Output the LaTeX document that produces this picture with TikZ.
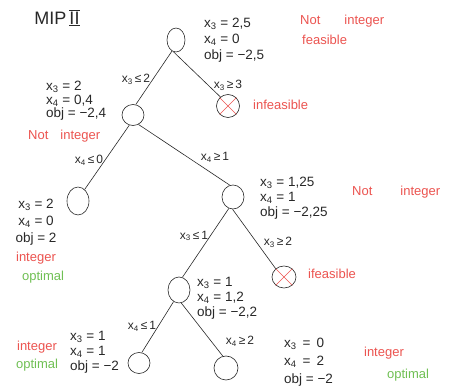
\documentclass[tikz,border=0pt]{standalone}
\usepackage{fontspec}
\setmainfont{Liberation Sans}
\usetikzlibrary{shapes.geometric}
\definecolor{redc}{RGB}{236,84,80}
\definecolor{greenc}{RGB}{112,192,84}
\definecolor{inkc}{RGB}{40,40,40}
\newcommand\xsub[1]{x\textsubscript{#1}}
\begin{document}
\begin{tikzpicture}[x=1pt,y=-1pt,
  nd/.style={ellipse, draw=inkc, line width=0.6pt, inner sep=0pt},
  conn/.style={draw=inkc, line width=0.6pt},
  cross/.style={draw=redc, line width=0.6pt},
  info/.style={font=\fontsize{13.5}{#1}\selectfont, align=left, inner sep=0pt, anchor=west, text=inkc},
  info/.default=15,
  lbl/.style={font=\fontsize{12}{13}\selectfont, inner sep=0pt, text=inkc},
  note/.style={font=\fontsize{13}{14}\selectfont, inner sep=0pt, text=redc},
  good/.style={font=\fontsize{13}{14}\selectfont, inner sep=0pt, text=greenc}]
\useasboundingbox[fill=white] (0,0) rectangle (459,390);

% title
\node[font=\fontsize{18}{20}\selectfont, text=inkc, inner sep=0pt] (title) at (57,18)
  {MIP\,\ensuremath{\overline{\underline{\mathrm{II}}}}};

% tree nodes
\node[nd, minimum width=18pt, minimum height=24pt] (root) at (176,40) {};
\node[nd, minimum width=22pt, minimum height=21pt] (A) at (133,115) {};
\node[nd, minimum width=23pt, minimum height=23pt] (B) at (228,106) {};
\node[nd, minimum width=22pt, minimum height=28pt] (C) at (78,201) {};
\node[nd, minimum width=22pt, minimum height=24pt] (D) at (233,197) {};
\node[nd, minimum width=22pt, minimum height=26pt] (E) at (179,290) {};
\node[nd, minimum width=24pt, minimum height=22pt] (F) at (284,277) {};
\node[nd, minimum width=22pt, minimum height=21pt] (G) at (139,363) {};
\node[nd, minimum width=24pt, minimum height=24pt] (H) at (226,368) {};

% red crosses
\draw[cross] (B.45) -- (B.225) (B.135) -- (B.315);
\draw[cross] (F.45) -- (F.225) (F.135) -- (F.315);

% connectors
\draw[conn] (root.250) -- (A.75);
\draw[conn] (root.258) -- (B.130);
\draw[conn] (A.250) -- (C.60);
\draw[conn] (A.300) -- (D.105);
\draw[conn] (D.250) -- (E.75);
\draw[conn] (D.268) -- (F.135);
\draw[conn] (E.245) -- (G.75);
\draw[conn] (E.280) -- (H.105);

% branch labels
\node[lbl] (l1) at (136,79) {\xsub{3}\,≤\,2};
\node[lbl] (l2) at (228,85) {\xsub{3}\,≥\,3};
\node[lbl] (l3) at (89,160) {\xsub{4}\,≤\,0};
\node[lbl] (l4) at (215,157) {\xsub{4}\,≥\,1};
\node[lbl] (l5) at (194,236) {\xsub{3}\,≤\,1};
\node[lbl] (l6) at (278,242) {\xsub{3}\,≥\,2};
\node[lbl] (l7) at (142,326) {\xsub{4}\,≤\,1};
\node[lbl] (l8) at (240,341) {\xsub{4}\,≥\,2};

% node values
\node[info=16] (t0) at (204,40) {\xsub{3} = 2,5\\ \xsub{4} = 0\\ obj = −2,5};
\node[info=13.5] (tA) at (46,101) {\xsub{3} = 2\\ \xsub{4} = 0,4\\ obj = −2,4};
\node[info=17, align=center, anchor=center] (tC) at (36,222) {\xsub{3} = 2\\ \xsub{4} = 0\\ obj = 2};
\node[info=15] (tD) at (260,198) {\xsub{3} = 1,25\\ \xsub{4} = 1\\ obj = −2,25};
\node[info=15] (tE) at (197,298) {\xsub{3} = 1\\ \xsub{4} = 1,2\\ obj = −2,2};
\node[info=15] (tG) at (70,352) {\xsub{3} = 1\\ \xsub{4} = 1\\ obj = −2};
\node[info=18] (tH) at (284,362) {\xsub{3}\, = \,0\\ \xsub{4}\, = \,2\\ obj = −2};

% status notes
\node[note, anchor=west] (n0) at (300,21) {Not\hspace{24pt}integer};
\node[note, anchor=west] (n0b) at (302,40) {feasible};
\node[note, anchor=west] (nB) at (253,105) {infeasible};
\node[note, anchor=west] (nA) at (28,136) {Not\hspace{12pt}integer};
\node[note] (nC) at (36,258) {integer};
\node[good] (nC2) at (43,277) {optimal};
\node[note, anchor=west] (nD) at (352,192) {Not\hspace{28pt}integer};
\node[note, anchor=west] (nF) at (308,274) {ifeasible};
\node[note] (nG) at (37,347) {integer};
\node[good] (nG2) at (37,365) {optimal};
\node[note] (nH) at (384,353) {integer};
\node[good] (nH2) at (408,375) {optimal};
\end{tikzpicture}
\end{document}
